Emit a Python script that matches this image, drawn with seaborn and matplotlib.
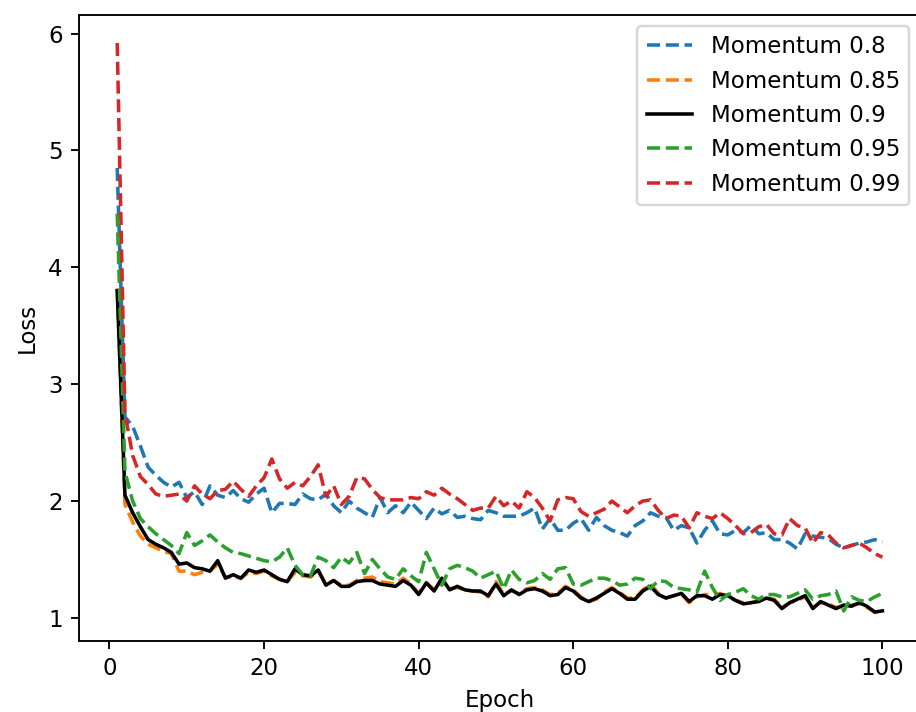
import matplotlib
matplotlib.use("Agg")
import matplotlib.pyplot as plt
import numpy as np
import pandas as pd
import seaborn as sns

epochs = list(range(1, 101))

loss_m080 = [
    4.85, 2.72, 2.64, 2.47, 2.29, 2.22, 2.16, 2.12, 2.16, 2.03,
    2.08, 1.97, 2.13, 2.05, 2.03, 2.09, 2.02, 1.99, 2.06, 2.11,
    1.90, 1.98, 1.98, 1.97, 2.06, 2.02, 2.01, 2.06, 1.96, 1.90,
    2.00, 1.94, 1.90, 1.86, 2.03, 1.90, 1.96, 1.90, 1.99, 1.92,
    1.85, 1.94, 1.89, 1.92, 1.86, 1.87, 1.85, 1.84, 1.92, 1.90,
    1.87, 1.87, 1.87, 1.90, 1.94, 1.76, 1.85, 1.75, 1.75, 1.81,
    1.85, 1.75, 1.86, 1.79, 1.75, 1.73, 1.70, 1.79, 1.83, 1.90,
    1.87, 1.86, 1.75, 1.79, 1.77, 1.64, 1.75, 1.83, 1.72, 1.71,
    1.75, 1.73, 1.79, 1.72, 1.73, 1.67, 1.67, 1.64, 1.59, 1.72,
    1.70, 1.69, 1.68, 1.63, 1.60, 1.62, 1.64, 1.65, 1.67, 1.65,
]

loss_m085 = [
    3.82, 1.97, 1.82, 1.70, 1.63, 1.60, 1.57, 1.55, 1.40, 1.40,
    1.37, 1.39, 1.40, 1.46, 1.35, 1.35, 1.34, 1.39, 1.38, 1.40,
    1.36, 1.33, 1.31, 1.39, 1.36, 1.35, 1.40, 1.29, 1.32, 1.28,
    1.28, 1.32, 1.34, 1.35, 1.31, 1.30, 1.29, 1.34, 1.29, 1.21,
    1.30, 1.24, 1.32, 1.25, 1.26, 1.24, 1.23, 1.22, 1.18, 1.31,
    1.20, 1.23, 1.21, 1.25, 1.26, 1.24, 1.20, 1.21, 1.27, 1.24,
    1.18, 1.14, 1.16, 1.22, 1.26, 1.22, 1.17, 1.17, 1.24, 1.29,
    1.21, 1.17, 1.19, 1.20, 1.13, 1.18, 1.20, 1.20, 1.21, 1.18,
    1.15, 1.13, 1.13, 1.15, 1.17, 1.16, 1.09, 1.13, 1.15, 1.18,
    1.09, 1.13, 1.12, 1.09, 1.10, 1.11, 1.12, 1.09, 1.05, 1.06,
]

loss_m090 = [
    3.80, 2.05, 1.90, 1.78, 1.67, 1.63, 1.60, 1.56, 1.46, 1.47,
    1.43, 1.42, 1.40, 1.49, 1.34, 1.37, 1.34, 1.41, 1.39, 1.41,
    1.37, 1.33, 1.31, 1.42, 1.37, 1.36, 1.41, 1.28, 1.32, 1.27,
    1.27, 1.31, 1.32, 1.32, 1.29, 1.28, 1.27, 1.32, 1.28, 1.20,
    1.30, 1.23, 1.34, 1.24, 1.27, 1.24, 1.23, 1.23, 1.19, 1.29,
    1.19, 1.24, 1.20, 1.24, 1.25, 1.23, 1.19, 1.20, 1.26, 1.23,
    1.17, 1.14, 1.17, 1.21, 1.25, 1.21, 1.16, 1.16, 1.23, 1.27,
    1.20, 1.17, 1.19, 1.21, 1.14, 1.19, 1.19, 1.16, 1.20, 1.19,
    1.15, 1.12, 1.13, 1.14, 1.17, 1.15, 1.08, 1.13, 1.16, 1.19,
    1.08, 1.14, 1.11, 1.08, 1.11, 1.10, 1.13, 1.10, 1.05, 1.06,
]

loss_m095 = [
    4.46, 2.25, 2.00, 1.85, 1.78, 1.72, 1.67, 1.62, 1.55, 1.73,
    1.62, 1.66, 1.71, 1.65, 1.60, 1.56, 1.55, 1.53, 1.51, 1.49,
    1.48, 1.52, 1.60, 1.45, 1.37, 1.36, 1.52, 1.49, 1.43, 1.52,
    1.47, 1.56, 1.38, 1.50, 1.42, 1.35, 1.33, 1.42, 1.36, 1.31,
    1.56, 1.42, 1.28, 1.42, 1.45, 1.43, 1.40, 1.34, 1.37, 1.40,
    1.25, 1.41, 1.33, 1.30, 1.32, 1.38, 1.33, 1.42, 1.43, 1.29,
    1.28, 1.31, 1.34, 1.34, 1.32, 1.28, 1.29, 1.34, 1.33, 1.25,
    1.32, 1.31, 1.26, 1.25, 1.24, 1.22, 1.40, 1.26, 1.15, 1.20,
    1.22, 1.25, 1.19, 1.16, 1.20, 1.20, 1.18, 1.18, 1.21, 1.24,
    1.16, 1.19, 1.20, 1.23, 1.06, 1.18, 1.15, 1.14, 1.18, 1.21,
]

loss_m099 = [
    5.92, 2.75, 2.39, 2.21, 2.14, 2.06, 2.04, 2.05, 2.06, 2.00,
    2.13, 2.06, 2.02, 2.09, 2.10, 2.17, 2.10, 2.04, 2.13, 2.20,
    2.36, 2.19, 2.11, 2.16, 2.13, 2.21, 2.31, 2.04, 2.13, 1.97,
    2.04, 2.20, 2.19, 2.10, 2.03, 2.01, 2.01, 2.01, 2.03, 2.02,
    2.08, 2.05, 2.11, 2.06, 2.02, 1.97, 1.92, 1.94, 1.94, 2.04,
    1.96, 2.00, 1.94, 2.08, 2.03, 1.94, 1.83, 2.01, 2.03, 2.02,
    1.91, 1.87, 1.90, 1.93, 2.00, 1.95, 1.90, 1.96, 2.00, 2.01,
    1.92, 1.85, 1.88, 1.87, 1.77, 1.90, 1.87, 1.85, 1.90, 1.85,
    1.79, 1.72, 1.73, 1.78, 1.80, 1.72, 1.71, 1.85, 1.79, 1.77,
    1.64, 1.73, 1.71, 1.64, 1.60, 1.62, 1.64, 1.60, 1.55, 1.52,
]

labels = ["Momentum 0.8", "Momentum 0.85", "Momentum 0.9",
          "Momentum 0.95", "Momentum 0.99"]
series = [loss_m080, loss_m085, loss_m090, loss_m095, loss_m099]
colors = ["#1f77b4", "#ff7f0e", "black", "#2ca02c", "#d62728"]
styles = ["--", "--", "-", "--", "--"]

FS = 9.7
plt.rcParams.update({
    "font.size": FS,
    "xtick.labelsize": FS,
    "ytick.labelsize": FS,
    "xtick.major.size": 3.4,
    "ytick.major.size": 3.4,
})

fig = plt.figure(figsize=(916 / 170, 712 / 170), dpi=170)
ax = fig.add_axes([0.0862, 0.1004, 0.9189, 0.8792])

for label, values, color, ls in zip(labels, series, colors, styles):
    df = pd.DataFrame({"Epoch": epochs, "Loss": values})
    sns.lineplot(data=df, x="Epoch", y="Loss", ax=ax, color=color,
                 linestyle=ls, linewidth=1.5, label=label)

ax.set_xlabel("Epoch", fontsize=FS)
ax.set_ylabel("Loss", fontsize=FS)
ax.legend(loc="upper right", fontsize=FS)

fig.savefig("out.png", dpi=170)
